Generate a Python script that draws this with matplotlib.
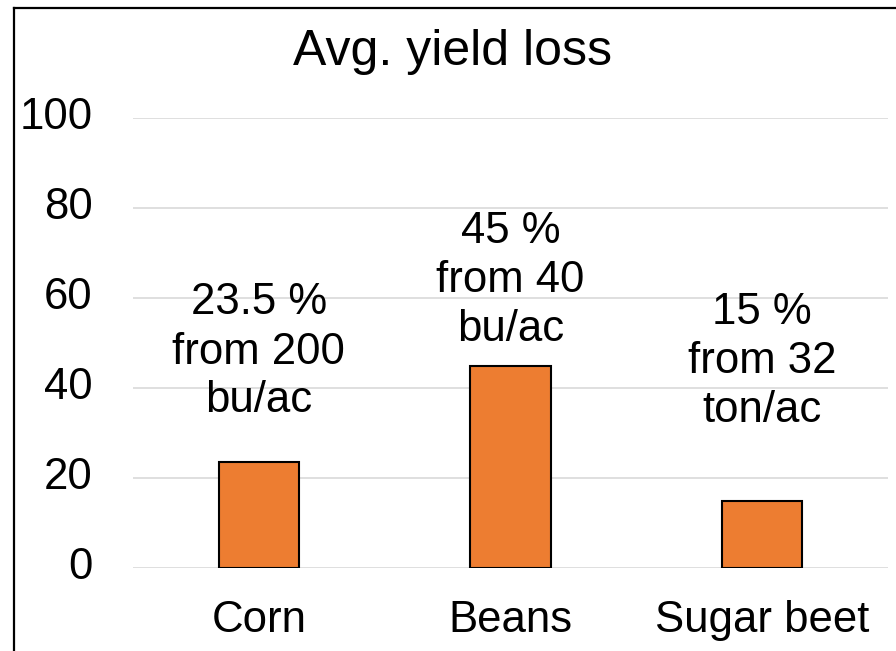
import matplotlib.pyplot as plt
import matplotlib.transforms as mtransforms
from matplotlib.lines import Line2D

plt.rcParams['font.family'] = ['Liberation Sans', 'DejaVu Sans']

crops = ['Corn', 'Beans', 'Sugar beet']
loss_pct = [23.5, 45, 15]
notes = ['23.5 %\nfrom 200\nbu/ac', '45 %\nfrom 40\nbu/ac', '15 %\nfrom 32\nton/ac']
note_y = [48, 63.8, 45.8]
yticks = [0, 20, 40, 60, 80, 100]

fig = plt.figure(figsize=(8.96, 6.51), dpi=100)
ax = fig.add_axes([133/896, 83/651, 755/896, 450/651])

x = range(len(crops))
ax.bar(x, loss_pct, width=0.32, color='#ED7D31', edgecolor='black', linewidth=1.5, zorder=3)

for i, (txt, yy) in enumerate(zip(notes, note_y)):
    ax.text(i, yy, txt, ha='center', va='center', fontsize=31.5, linespacing=1.25, zorder=4)

ax.set_xlim(-0.5, 2.5)
ax.set_ylim(0, 100)
ax.set_yticks(yticks)
ax.set_xticks(list(x))
ax.set_xticklabels(crops)
ax.tick_params(axis='both', length=0, labelsize=31.5)
ax.tick_params(axis='y', pad=29)
ax.tick_params(axis='x', pad=23)
ax.grid(axis='y', color='#d9d9d9', linewidth=1.2, zorder=0)
for s in ax.spines.values():
    s.set_visible(False)

# nudge y labels up a little, like the original
shift = mtransforms.ScaledTranslation(0, 5/100, fig.dpi_scale_trans)
for lbl in ax.get_yticklabels():
    lbl.set_transform(lbl.get_transform() + shift)

fig.text(452/896, 1 - 52/651, 'Avg. yield loss', ha='center', va='center', fontsize=36)

# outer frame (cropped on right and bottom)
fig.add_artist(Line2D([14/896, 14/896], [0, 1 - 8/651], color='black', linewidth=1.6))
fig.add_artist(Line2D([14/896, 1], [1 - 8/651, 1 - 8/651], color='black', linewidth=1.6))

fig.savefig('out.png', dpi=100)
